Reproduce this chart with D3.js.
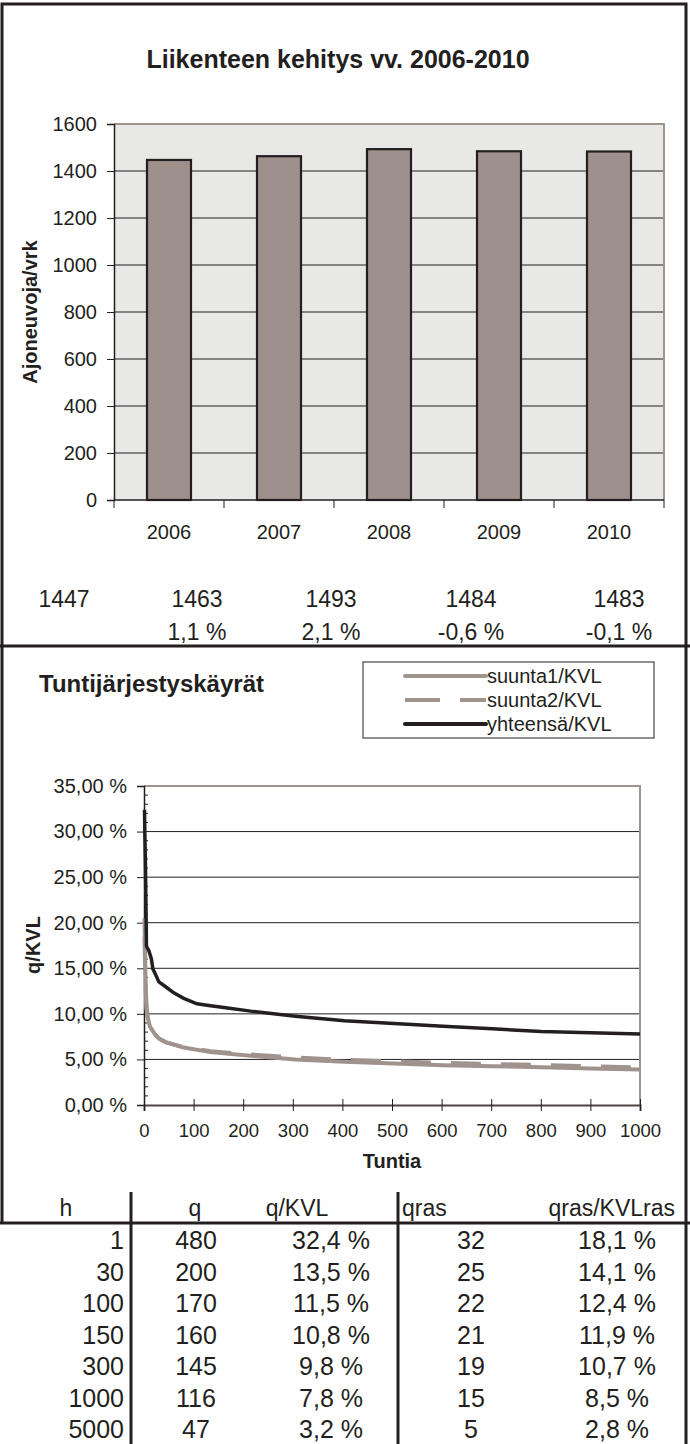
<!DOCTYPE html>
<html>
<head>
<meta charset="utf-8">
<script src="https://cdn.jsdelivr.net/npm/d3@7"></script>
<style>
  html, body { margin: 0; padding: 0; background: #fff; }
  svg text { font-family: "Liberation Sans", Arial, sans-serif; fill: #231f20; }
</style>
</head>
<body>
<svg id="c" width="690" height="1444"></svg>
<script>
// ---------- data ----------
const years = ["2006", "2007", "2008", "2009", "2010"];
const traffic = [1447, 1463, 1493, 1484, 1483];
const changes = ["", "1,1 %", "2,1 %", "-0,6 %", "-0,1 %"];
const barTicks = [0, 200, 400, 600, 800, 1000, 1200, 1400, 1600];

const pctTicks = [0, 5, 10, 15, 20, 25, 30, 35];
const hourTicks = [0, 100, 200, 300, 400, 500, 600, 700, 800, 900, 1000];

const totalHours = [1, 2, 3, 5, 10, 15, 18, 21, 30, 43, 60, 80, 107, 134, 161, 215, 305, 404, 504, 603, 702, 801, 900, 1000];
const totalPct   = [32.4, 29, 26, 17.4, 16.9, 16.0, 14.9, 14.6, 13.5, 13.0, 12.3, 11.7, 11.1, 10.9, 10.7, 10.3, 9.75, 9.24, 8.95, 8.65, 8.36, 8.07, 7.92, 7.78];
const dirHours = [1, 3, 5, 8, 12, 21, 30, 43, 80, 134, 215, 305, 404, 504, 603, 702, 801, 900, 1000];
const dir1Pct  = [20.5, 14, 10.8, 9.5, 8.6, 7.85, 7.3, 6.9, 6.3, 5.8, 5.4, 5.0, 4.74, 4.56, 4.37, 4.26, 4.15, 4.0, 3.9];
const dir2Pct  = [18.5, 13, 10.5, 9.3, 8.5, 7.8, 7.3, 6.9, 6.35, 5.9, 5.55, 5.2, 4.95, 4.8, 4.62, 4.5, 4.38, 4.27, 4.1];
const seriesNames = ["suunta1/KVL", "suunta2/KVL", "yhteensä/KVL"];

const tableHeaders = ["h", "q", "q/KVL", "qras", "qras/KVLras"];
const tableH = [1, 30, 100, 150, 300, 1000, 5000];
const tableQ = [480, 200, 170, 160, 145, 116, 47];
const tableQKVL = ["32,4 %", "13,5 %", "11,5 %", "10,8 %", "9,8 %", "7,8 %", "3,2 %"];
const tableQras = [32, 25, 22, 21, 19, 15, 5];
const tableQrasKVL = ["18,1 %", "14,1 %", "12,4 %", "11,9 %", "10,7 %", "8,5 %", "2,8 %"];

// ---------- styles ----------
const GREY = "#a0938e";
const DARK = "#231f20";
const svg = d3.select("#c");

// outer frame
svg.append("path").attr("d", "M2,1223 V4 H686 V1444")
  .attr("fill", "none").attr("stroke", DARK).attr("stroke-width", 3);
svg.append("line").attr("x1", 0).attr("x2", 690).attr("y1", 646).attr("y2", 646)
  .attr("stroke", DARK).attr("stroke-width", 3);

// ================= BAR CHART =================
const bL = 114, bR = 664, bT = 124, bB = 500;
svg.append("text").attr("x", 338).attr("y", 68).attr("text-anchor", "middle")
  .attr("font-size", 25).attr("font-weight", "bold").text("Liikenteen kehitys vv. 2006-2010");

const xb = d3.scaleBand().domain(years).range([bL, bR]).paddingInner(0.6).paddingOuter(0.3);
const yb = d3.scaleLinear().domain([0, 1600]).range([bB, bT]);

svg.append("rect").attr("x", bL).attr("y", bT).attr("width", bR - bL).attr("height", bB - bT)
  .attr("fill", "#e8e9e6");
svg.append("g").selectAll("line").data(barTicks.filter(d => d > 0 && d < 1600)).join("line")
  .attr("x1", bL).attr("x2", bR).attr("y1", d => yb(d)).attr("y2", d => yb(d))
  .attr("stroke", DARK).attr("stroke-width", 1);
svg.append("path").attr("d", `M${bL},${bT} H${bR} V${bB}`).attr("fill", "none")
  .attr("stroke", GREY).attr("stroke-width", 2);

svg.append("g").selectAll("rect").data(years).join("rect")
  .attr("x", d => xb(d)).attr("width", xb.bandwidth())
  .attr("y", (d, i) => yb(traffic[i])).attr("height", (d, i) => bB - yb(traffic[i]))
  .attr("fill", "#9e908b").attr("stroke", DARK).attr("stroke-width", 2.2);

const yAxisB = svg.append("g").attr("transform", `translate(${bL},0)`)
  .call(d3.axisLeft(yb).tickValues(barTicks).tickSize(7).tickPadding(10).tickFormat(d3.format("d")));
yAxisB.select(".domain").attr("stroke", DARK).attr("stroke-width", 1.5);
yAxisB.selectAll(".tick line").attr("stroke", DARK);
yAxisB.selectAll("text").attr("font-size", 20).attr("fill", DARK)
  .attr("font-family", "Liberation Sans, Arial, sans-serif");

const step = xb.step();
const bounds = years.map(d => xb(d) - xb.paddingOuter() * step).concat([bR]);
svg.append("line").attr("x1", bL).attr("x2", bR).attr("y1", bB).attr("y2", bB)
  .attr("stroke", DARK).attr("stroke-width", 1.5);
svg.append("g").selectAll("line").data(bounds).join("line")
  .attr("x1", d => d).attr("x2", d => d).attr("y1", bB).attr("y2", bB + 8)
  .attr("stroke", DARK).attr("stroke-width", 1);
svg.append("g").selectAll("text").data(years).join("text")
  .attr("x", d => xb(d) + xb.bandwidth() / 2).attr("y", 539).attr("text-anchor", "middle")
  .attr("font-size", 20).text(d => d);

svg.append("text").attr("transform", "translate(37,312) rotate(-90)").attr("text-anchor", "middle")
  .attr("font-size", 20).attr("font-weight", "bold").text("Ajoneuvoja/vrk");

const valueCols = [64, 197, 331, 471, 619];
svg.append("g").selectAll("text").data(traffic).join("text")
  .attr("x", (d, i) => valueCols[i]).attr("y", 607).attr("text-anchor", "middle")
  .attr("font-size", 23).text(d => d);
svg.append("g").selectAll("text").data(changes).join("text")
  .attr("x", (d, i) => valueCols[i]).attr("y", 640).attr("text-anchor", "middle")
  .attr("font-size", 23).text(d => d);

// ================= LINE CHART =================
const lL = 144, lR = 640, lT = 786, lB = 1105;
svg.append("text").attr("x", 39).attr("y", 692).attr("font-size", 24).attr("font-weight", "bold")
  .text("Tuntijärjestyskäyrät");

const xl = d3.scaleLinear().domain([0, 1000]).range([lL, lR]);
const yl = d3.scaleLinear().domain([0, 35]).range([lB, lT]);

svg.append("g").selectAll("line").data(pctTicks.filter(d => d > 0 && d < 35)).join("line")
  .attr("x1", lL).attr("x2", lR).attr("y1", d => yl(d)).attr("y2", d => yl(d))
  .attr("stroke", DARK).attr("stroke-width", 1);
svg.append("path").attr("d", `M${lL},${lT} H${lR} V${lB}`).attr("fill", "none")
  .attr("stroke", GREY).attr("stroke-width", 2);

svg.append("g").selectAll("line").data(d3.range(1, 35).filter(d => d % 5 !== 0)).join("line")
  .attr("x1", lL).attr("x2", lL + 4).attr("y1", d => yl(d)).attr("y2", d => yl(d))
  .attr("stroke", DARK).attr("stroke-width", 1);

const yAxisL = svg.append("g").attr("transform", `translate(${lL},0)`)
  .call(d3.axisLeft(yl).tickValues(pctTicks).tickSize(7).tickPadding(10)
    .tickFormat(d => d3.format(".2f")(d).replace(".", ",") + " %"));
yAxisL.select(".domain").attr("stroke", DARK).attr("stroke-width", 1.5);
yAxisL.selectAll(".tick line").attr("stroke", DARK);
yAxisL.selectAll("text").attr("font-size", 20).attr("fill", DARK)
  .attr("font-family", "Liberation Sans, Arial, sans-serif");

const xAxisL = svg.append("g").attr("transform", `translate(0,${lB})`)
  .call(d3.axisBottom(xl).tickValues(hourTicks).tickSize(6).tickPadding(13).tickFormat(d3.format("d")));
xAxisL.select(".domain").attr("stroke", "#4a4443").attr("stroke-width", 2);
xAxisL.selectAll(".tick line").attr("stroke", DARK).attr("y1", -6);
xAxisL.selectAll("text").attr("font-size", 18.5).attr("fill", DARK)
  .attr("font-family", "Liberation Sans, Arial, sans-serif");

svg.append("text").attr("x", 392).attr("y", 1168).attr("text-anchor", "middle")
  .attr("font-size", 20).attr("font-weight", "bold").text("Tuntia");
svg.append("text").attr("transform", "translate(40,945) rotate(-90)").attr("text-anchor", "middle")
  .attr("font-size", 20).attr("font-weight", "bold").text("q/KVL");

const line = d3.line().x(d => xl(d[0])).y(d => yl(d[1]));
const s1 = dirHours.map((h, i) => [h, dir1Pct[i]]);
const s2 = dirHours.map((h, i) => [h, dir2Pct[i]]);
const s3 = totalHours.map((h, i) => [h, totalPct[i]]);
svg.append("path").datum(s1).attr("d", line).attr("fill", "none")
  .attr("stroke", GREY).attr("stroke-width", 4);
svg.append("path").datum(s2).attr("d", line).attr("fill", "none")
  .attr("stroke", GREY).attr("stroke-width", 4).attr("stroke-dasharray", "30,20");
svg.append("path").datum(s3).attr("d", line).attr("fill", "none")
  .attr("stroke", DARK).attr("stroke-width", 3.5);

// legend
svg.append("rect").attr("x", 363).attr("y", 662).attr("width", 291).attr("height", 76)
  .attr("fill", "#fff").attr("stroke", DARK).attr("stroke-width", 1);
const legStyles = [
  { c: GREY, w: 4, dash: null, cap: "round" },
  { c: GREY, w: 4, dash: "35,20", cap: "butt" },
  { c: DARK, w: 4, dash: null, cap: "round" }
];
const leg = svg.append("g").selectAll("g").data(seriesNames).join("g")
  .attr("transform", (d, i) => `translate(0,${676 + i * 24})`);
leg.append("line").attr("x1", 405).attr("x2", 486).attr("y1", 0).attr("y2", 0)
  .attr("stroke", (d, i) => legStyles[i].c).attr("stroke-width", (d, i) => legStyles[i].w)
  .attr("stroke-linecap", (d, i) => legStyles[i].cap)
  .attr("stroke-dasharray", (d, i) => legStyles[i].dash);
leg.append("text").attr("x", 487).attr("y", 7).attr("font-size", 20).text(d => d);

// ================= TABLE =================
svg.append("line").attr("x1", 0).attr("x2", 690).attr("y1", 1223).attr("y2", 1223)
  .attr("stroke", DARK).attr("stroke-width", 3);
[131, 398].forEach(x => svg.append("line").attr("x1", x).attr("x2", x).attr("y1", 1192).attr("y2", 1444)
  .attr("stroke", DARK).attr("stroke-width", 3));

const headPos = [
  { x: 66, a: "middle" }, { x: 195, a: "middle" }, { x: 297, a: "middle" },
  { x: 402, a: "start" }, { x: 675, a: "end" }
];
svg.append("g").selectAll("text").data(tableHeaders).join("text")
  .attr("x", (d, i) => headPos[i].x).attr("text-anchor", (d, i) => headPos[i].a)
  .attr("y", 1216).attr("font-size", 23).text(d => d);

const cols = [
  { vals: tableH, x: 124, a: "end" },
  { vals: tableQ, x: 196, a: "middle" },
  { vals: tableQKVL, x: 331, a: "middle" },
  { vals: tableQras, x: 471, a: "middle" },
  { vals: tableQrasKVL, x: 617, a: "middle" }
];
const rowY = d3.scaleLinear().domain([0, 6]).range([1249, 1438]);
cols.forEach(col => {
  svg.append("g").selectAll("text").data(col.vals).join("text")
    .attr("x", col.x).attr("y", (d, i) => rowY(i)).attr("text-anchor", col.a)
    .attr("font-size", 25).text(d => d);
});
</script>
</body>
</html>
